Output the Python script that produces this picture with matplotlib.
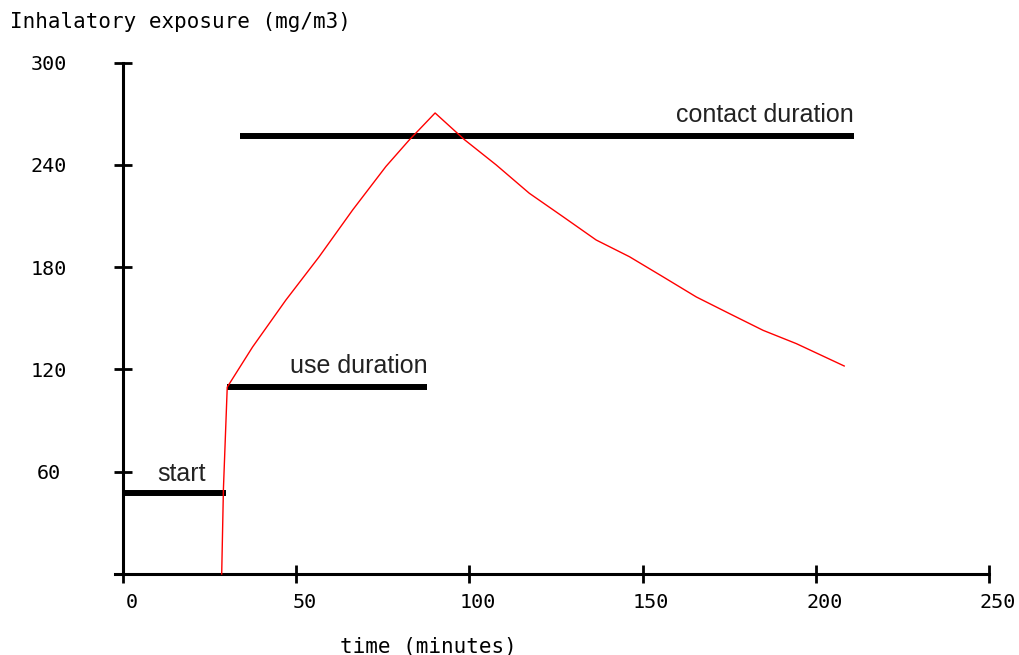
import matplotlib
matplotlib.use("Agg")
import matplotlib.pyplot as plt
from matplotlib.transforms import ScaledTranslation

# ---- data ----
time_min = [28.5, 29.0, 30.1, 37.4, 47.0, 56.6, 66.3, 75.9, 82.7, 85.5, 90.1,
            98.6, 107.7, 117.3, 127.0, 136.6, 146.2, 155.9, 165.5, 175.1,
            184.8, 194.4, 208.2]
exposure = [0, 50, 109.6, 133.1, 160.6, 186.0, 213.5, 239.0, 254.7, 260.6, 270.4,
            254.7, 240.0, 223.3, 209.6, 195.9, 186.1, 174.3, 162.5, 152.7,
            142.9, 135.1, 122.0]

bar_names = ["start", "use duration", "contact duration"]
bar_start = [0.0, 30.1, 33.7]
bar_end = [29.7, 87.9, 211.0]
bar_level = [47.5, 109.6, 256.7]

x_ticks = [0, 50, 100, 150, 200, 250]
y_ticks = [0, 60, 120, 180, 240, 300]
y_tick_labels = ["", "60", "120", "180", "240", "300"]

# ---- figure ----
W, H, DPI = 1019, 655, 100
fig = plt.figure(figsize=(W / DPI, H / DPI), dpi=DPI)
left, right, bottom, top = 115, 989, 574, 62.5
ax = fig.add_axes([left / W, 1 - bottom / H, (right - left) / W, (bottom - top) / H])
ax.set_xlim(-2.3, 250)
ax.set_ylim(0, 300)

for s in ["top", "right"]:
    ax.spines[s].set_visible(False)
ax.spines["left"].set_position(("data", 0))
for s in ["left", "bottom"]:
    ax.spines[s].set_linewidth(2.2)
    ax.spines[s].set_color("black")

mono = "DejaVu Sans Mono"
ax.set_xticks(x_ticks)
ax.set_xticklabels([str(v) for v in x_ticks], fontfamily=mono, fontsize=14.5)
ax.set_yticks(y_ticks)
ax.set_yticklabels(y_tick_labels, fontfamily=mono, fontsize=14.5, ha="center")
ax.tick_params(axis="both", direction="inout", length=13, width=2, color="black")
ax.tick_params(axis="x", pad=7)
ax.tick_params(axis="y", pad=47)
for lab in ax.get_xticklabels():
    lab.set_transform(lab.get_transform() + ScaledTranslation(8.5 / DPI, 0, fig.dpi_scale_trans))

# exposure curve
ax.plot(time_min, exposure, color="red", lw=1.0, clip_on=False, zorder=3)

# duration bars
label_offsets = [(5, 14), (0, 15), (0, 15)]
label_ha = ["center", "right", "right"]
for name, x0, x1, lvl, off, ha in zip(bar_names, bar_start, bar_end, bar_level,
                                       label_offsets, label_ha):
    ax.plot([x0, x1], [lvl, lvl], color="black", lw=4.3, solid_capstyle="butt",
            zorder=2, clip_on=False)
    xa = (x0 + x1) / 2 if ha == "center" else x1
    ax.annotate(name, xy=(xa, lvl), xytext=off, textcoords="offset points",
                ha=ha, va="center", fontsize=18, family="Liberation Sans",
                color="#222222")

fig.text(10 / W, 1 - 22 / H, "Inhalatory exposure (mg/m3)", ha="left", va="center",
         fontfamily=mono, fontsize=15)
fig.text(428 / W, 1 - 647 / H, "time (minutes)", ha="center", va="center",
         fontfamily=mono, fontsize=15)

fig.savefig("out.png", dpi=DPI)
